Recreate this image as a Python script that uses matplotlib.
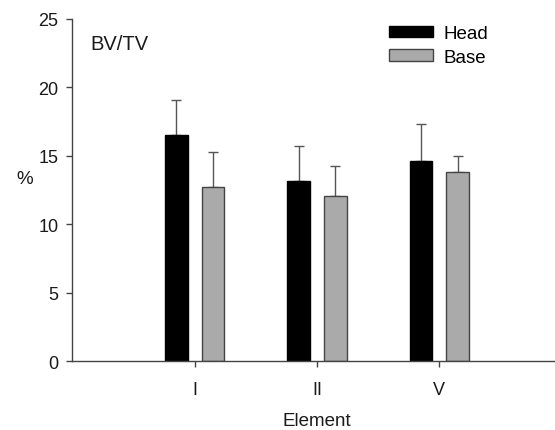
import numpy as np
import matplotlib
matplotlib.use("Agg")
import matplotlib.pyplot as plt
from matplotlib.patches import Patch

Categories = ["I", "II", "V"]
Head_Mean = [16.5, 13.2, 14.6]
Head_Err = [2.6, 2.5, 2.7]
Base_Mean = [12.7, 12.05, 13.8]
Base_Err = [2.6, 2.2, 1.2]

plt.rcParams['font.family'] = ['Liberation Sans', 'DejaVu Sans']

fig = plt.figure(figsize=(5.55, 4.31), dpi=100)
ax = fig.add_axes([0.1303, 0.1594, 0.8814, 0.7942])

Array_X = np.arange(1, len(Categories) + 1)
Float_Width = 0.185
Float_Off = 0.15
Str_Edge = "#444444"

ax.bar(Array_X - Float_Off, Head_Mean, Float_Width, color="black", edgecolor="black", linewidth=1, zorder=2)
ax.bar(Array_X + Float_Off, Base_Mean, Float_Width, color="#aaaaaa", edgecolor=Str_Edge, linewidth=1, zorder=2)

ax.errorbar(Array_X - Float_Off, Head_Mean, yerr=[np.zeros(3), Head_Err], fmt="none",
            ecolor="#555555", elinewidth=1, capsize=3.8, capthick=1, zorder=1)
ax.errorbar(Array_X + Float_Off, Base_Mean, yerr=[np.zeros(3), Base_Err], fmt="none",
            ecolor="#555555", elinewidth=1, capsize=3.8, capthick=1, zorder=1)

ax.set_xlim(0, 4)
ax.set_ylim(0, 25)
ax.set_xticks(Array_X)
ax.set_xticklabels(Categories)
ax.set_yticks([0, 5, 10, 15, 20, 25])

for s in ["top", "right"]:
    ax.spines[s].set_visible(False)
for s in ["left", "bottom"]:
    ax.spines[s].set_color(Str_Edge)
    ax.spines[s].set_linewidth(1)
ax.tick_params(axis="both", colors=Str_Edge, labelcolor="#1a1a1a", labelsize=13, length=4, width=1)
ax.tick_params(axis="x", pad=10)
ax.tick_params(axis="y", pad=6)

ax.set_xlabel("Element", fontsize=13.5, color="#1a1a1a", labelpad=10)
fig.text(25 / 555, 1 - 180 / 431, "%", fontsize=13.5, ha="center", va="center", color="#1a1a1a")
fig.text(90 / 555, 1 - 45 / 431, "BV/TV", fontsize=14.5, ha="left", va="center", color="#1a1a1a")

Handles = [Patch(facecolor="black", edgecolor="black", label="Head"),
           Patch(facecolor="#aaaaaa", edgecolor=Str_Edge, label="Base")]
fig.legend(handles=Handles, loc="upper left", bbox_to_anchor=(389 / 555, 1 - 26 / 431),
           frameon=False, fontsize=13.5, handlelength=2.35, handleheight=0.55,
           handletextpad=0.55, labelspacing=0.35, borderpad=0, borderaxespad=0)

fig.savefig("out.png", dpi=100)
